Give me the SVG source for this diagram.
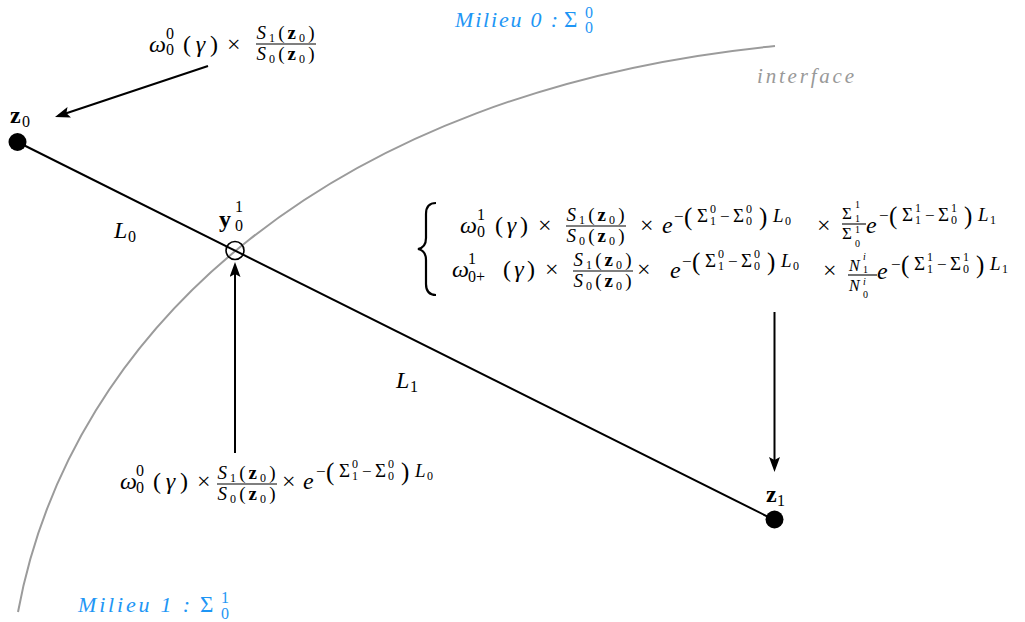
<svg xmlns="http://www.w3.org/2000/svg" width="1025" height="622" viewBox="0 0 1025 622" font-family="'Liberation Serif', Tinos, 'Times New Roman', 'Noto Serif', 'DejaVu Serif', serif">
<style>
  text { font-family: "Liberation Serif", Tinos, "Times New Roman", "Noto Serif", "DejaVu Serif", serif; fill: #000; }
  .m { font-size: 24px; }
  .s { font-size: 16px; }
  .sx { font-size: 19px; }
  .sm { font-size: 17px; }
  .ss { font-size: 12px; }
  .sss { font-size: 10px; }
  .bp { font-size: 25px; }
  .i { font-style: italic; }
  .b { font-weight: bold; }
  .blue { fill: #1e96f5; font-style: italic; font-size: 22px; }
  .blues { fill: #1e96f5; }
  .gray { fill: #999999; font-style: italic; font-size: 21px; }
  .conn { stroke: #000; stroke-width: 2; fill: none; }
  .arrow { marker-end: url(#ah); }
  .bar { stroke: #000; stroke-width: 1.1; }
  .dot { fill: #000; }
</style>
<defs>
  <marker id="ah" markerUnits="userSpaceOnUse" viewBox="0 0 16 12" markerWidth="16" markerHeight="12" refX="11" refY="5.5" orient="auto">
    <path d="M0,0 L15,5.5 L0,11 L3,5.5 Z" fill="#000"/>
  </marker>
  <g id="fracS">
    <text class="sx" x="0.5" y="-5" textLength="58" lengthAdjust="spacing"><tspan class="i">S</tspan><tspan class="ss" dy="3">1</tspan><tspan dy="-3">(</tspan><tspan class="b">z</tspan><tspan class="ss" dy="3">0</tspan><tspan dy="-3">)</tspan></text>
    <line class="bar" x1="0" y1="0" x2="60" y2="0"/>
    <text class="sx" x="0.5" y="16" textLength="58" lengthAdjust="spacing"><tspan class="i">S</tspan><tspan class="ss" dy="3">0</tspan><tspan dy="-3">(</tspan><tspan class="b">z</tspan><tspan class="ss" dy="3">0</tspan><tspan dy="-3">)</tspan></text>
  </g>
  <g id="expA">
    <text class="sm" x="1" y="0">−</text>
    <text class="bp" x="11" y="3">(</text>
    <text class="sx" x="24" y="0">Σ</text>
    <text class="ss" x="37" y="-9">0</text>
    <text class="ss" x="37" y="3">1</text>
    <text class="sm" x="47" y="0">−</text>
    <text class="sx" x="60" y="0">Σ</text>
    <text class="ss" x="73" y="-9">0</text>
    <text class="ss" x="73" y="3">0</text>
    <text class="bp" x="86" y="3">)</text>
    <text class="sx i" x="100" y="0">L</text>
    <text class="ss" x="112" y="3">0</text>
  </g>
  <g id="expB">
    <text class="sm" x="1" y="0">−</text>
    <text class="bp" x="11" y="3">(</text>
    <text class="sx" x="24" y="0">Σ</text>
    <text class="ss" x="37" y="-9">1</text>
    <text class="ss" x="37" y="3">1</text>
    <text class="sm" x="47" y="0">−</text>
    <text class="sx" x="60" y="0">Σ</text>
    <text class="ss" x="73" y="-9">1</text>
    <text class="ss" x="73" y="3">0</text>
    <text class="bp" x="86" y="3">)</text>
    <text class="sx i" x="100" y="0">L</text>
    <text class="ss" x="112" y="3">1</text>
  </g>
</defs>

<g id="interface">
  <path d="M18,612 C70,330 330,90 775,46" fill="none" stroke="#9b9b9b" stroke-width="2"/>
  <text class="gray" x="757" y="83" textLength="97" lengthAdjust="spacing">interface</text>
</g>

<g id="milieu0">
  <text class="blue" x="455" y="27" textLength="103" lengthAdjust="spacing">Milieu 0 :</text>
  <text class="blues" x="564" y="27" font-size="23">Σ</text>
  <text class="blues s" x="585" y="18">0</text>
  <text class="blues s" x="585" y="33">0</text>
</g>

<g id="milieu1">
  <text class="blue" x="78" y="612" textLength="112" lengthAdjust="spacing">Milieu 1 :</text>
  <text class="blues" x="200" y="612" font-size="23">Σ</text>
  <text class="blues s" x="221" y="603">1</text>
  <text class="blues s" x="221" y="619">0</text>
</g>

<g id="connectors">
  <line class="conn" x1="17.5" y1="142" x2="774.5" y2="520"/>
  <line class="conn arrow" x1="208" y1="66" x2="58.8" y2="115.7"/>
  <line class="conn arrow" x1="235" y1="453" x2="235" y2="266"/>
  <line class="conn arrow" x1="774.5" y1="312" x2="774.5" y2="468"/>
</g>

<g id="z0">
  <circle class="dot" cx="17.5" cy="142" r="9"/>
  <text class="m b" x="10" y="123">z</text>
  <text class="s" x="22" y="127">0</text>
</g>

<g id="y01">
  <circle cx="235" cy="250.5" r="9" fill="none" stroke="#000" stroke-width="1.6"/>
  <text class="m b" x="219" y="227">y</text>
  <text class="s" x="235" y="212">1</text>
  <text class="s" x="235" y="231">0</text>
</g>

<g id="z1">
  <circle class="dot" cx="774.5" cy="519.5" r="9"/>
  <text class="m b" x="766" y="502">z</text>
  <text class="s" x="777" y="506">1</text>
</g>

<g id="L0">
  <text class="m i" x="114" y="238">L</text>
  <text class="s" x="128" y="242">0</text>
</g>

<g id="L1">
  <text class="m i" x="396" y="388">L</text>
  <text class="s" x="410" y="392">1</text>
</g>

<g id="f-top">
  <text class="m i" x="149" y="52">ω</text>
  <text class="s" x="166" y="39">0</text>
  <text class="s" x="166" y="55">0</text>
  <text class="m" x="183" y="52" textLength="35" lengthAdjust="spacing">(<tspan class="i">γ</tspan>)</text>
  <text class="m" x="227" y="52">×</text>
  <use href="#fracS" transform="translate(256,44)"/>
</g>

<g id="f-mid">
  <path d="M436,203 C429,203 426,207 426,214 L426,238 C426,245 423,248 418,249 C423,250 426,253 426,260 L426,284 C426,291 429,295 436,295" fill="none" stroke="#000" stroke-width="2.2"/>
  <text class="m i" x="460" y="233">ω</text>
  <text class="s" x="477" y="220">1</text>
  <text class="s" x="477" y="237">0</text>
  <text class="m" x="495" y="233" textLength="33" lengthAdjust="spacing">(<tspan class="i">γ</tspan>)</text>
  <text class="m" x="538" y="233">×</text>
  <use href="#fracS" transform="translate(566,226)"/>
  <text class="m" x="640" y="233">×</text>
  <text class="m i" x="662" y="233">e</text>
  <use href="#expA" transform="translate(673,222)"/>
  <text class="m" x="817" y="233">×</text>
  <text class="sm" x="842" y="219">Σ</text>
  <text class="sss" x="855" y="208">1</text>
  <text class="sss" x="855" y="222">1</text>
  <line class="bar" x1="842" y1="224" x2="866" y2="224"/>
  <text class="sm" x="842" y="239">Σ</text>
  <text class="sss" x="855" y="233">1</text>
  <text class="sss" x="855" y="247">0</text>
  <text class="m i" x="866" y="233">e</text>
  <use href="#expB" transform="translate(878,221)"/>
  <text class="m i" x="452" y="277">ω</text>
  <text class="s" x="468" y="264">1</text>
  <text class="s" x="468" y="282">0+</text>
  <text class="m" x="503" y="277" textLength="32" lengthAdjust="spacing">(<tspan class="i">γ</tspan>)</text>
  <text class="m" x="545" y="277">×</text>
  <use href="#fracS" transform="translate(573,271)"/>
  <text class="m" x="637" y="277">×</text>
  <text class="m i" x="670" y="278">e</text>
  <use href="#expA" transform="translate(681,267)"/>
  <text class="m" x="823" y="278">×</text>
  <text class="s i" x="849" y="271">N</text>
  <text class="sss i" x="863" y="260">i</text>
  <text class="sss" x="863" y="273">1</text>
  <line class="bar" x1="848" y1="275" x2="877" y2="275"/>
  <text class="s i" x="849" y="291">N</text>
  <text class="sss i" x="863" y="285">i</text>
  <text class="sss" x="863" y="298">0</text>
  <text class="m i" x="877" y="279">e</text>
  <use href="#expB" transform="translate(890,270)"/>
</g>

<g id="f-bot">
  <text class="m i" x="120" y="489">ω</text>
  <text class="s" x="136" y="476">0</text>
  <text class="s" x="136" y="493">0</text>
  <text class="m" x="153" y="489" textLength="35" lengthAdjust="spacing">(<tspan class="i">γ</tspan>)</text>
  <text class="m" x="197" y="489">×</text>
  <use href="#fracS" transform="translate(217,484)"/>
  <text class="m" x="282" y="489">×</text>
  <text class="m i" x="303" y="489">e</text>
  <use href="#expA" transform="translate(315,477)"/>
</g>
</svg>
